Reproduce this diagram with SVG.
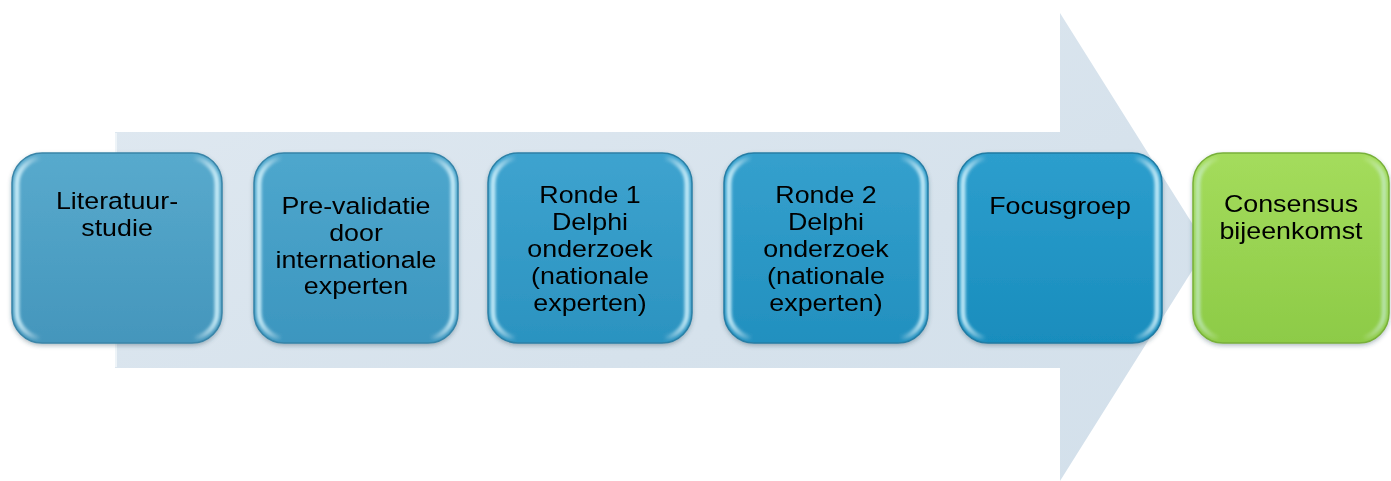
<svg xmlns="http://www.w3.org/2000/svg" width="1391" height="481" viewBox="0 0 1391 481">
  <defs>
    <style>
      .lbl { font-family: "Liberation Sans", Arial, sans-serif; font-size: 24.5px; fill: #000; text-anchor: middle; }
      .edge { fill: none; stroke-width: 1.5; }
      .shine { fill: none; stroke: url(#sideShine); stroke-width: 5; filter: url(#soft); }
    </style>
    <linearGradient id="arrowFill" x1="0" y1="0" x2="1" y2="1">
      <stop offset="0" stop-color="#e0e9f1"/>
      <stop offset="0.6" stop-color="#d6e2ec"/>
      <stop offset="1" stop-color="#d3e0eb"/>
    </linearGradient>
    <linearGradient id="blue1" x1="0" y1="0" x2="0" y2="1">
      <stop offset="0" stop-color="#58aacd"/>
      <stop offset="1" stop-color="#4496bc"/>
    </linearGradient>
    <linearGradient id="blue2" x1="0" y1="0" x2="0" y2="1">
      <stop offset="0" stop-color="#4ea7cd"/>
      <stop offset="1" stop-color="#3c96bf"/>
    </linearGradient>
    <linearGradient id="blue3" x1="0" y1="0" x2="0" y2="1">
      <stop offset="0" stop-color="#3ea3cf"/>
      <stop offset="1" stop-color="#2b93c0"/>
    </linearGradient>
    <linearGradient id="blue4" x1="0" y1="0" x2="0" y2="1">
      <stop offset="0" stop-color="#35a0cd"/>
      <stop offset="1" stop-color="#2290bf"/>
    </linearGradient>
    <linearGradient id="blue5" x1="0" y1="0" x2="0" y2="1">
      <stop offset="0" stop-color="#2d9ecd"/>
      <stop offset="1" stop-color="#198dbd"/>
    </linearGradient>
    <linearGradient id="green" x1="0" y1="0" x2="0" y2="1">
      <stop offset="0" stop-color="#a4dc5c"/>
      <stop offset="1" stop-color="#8dcb47"/>
    </linearGradient>
    <linearGradient id="sideShine" x1="0" y1="0" x2="1" y2="0">
      <stop offset="0" stop-color="#d8f6ff" stop-opacity="0.85"/>
      <stop offset="0.12" stop-color="#ffffff" stop-opacity="0"/>
      <stop offset="0.88" stop-color="#ffffff" stop-opacity="0"/>
      <stop offset="1" stop-color="#d8f6ff" stop-opacity="0.85"/>
    </linearGradient>
    <filter id="soft" x="-10%" y="-10%" width="120%" height="120%">
      <feGaussianBlur stdDeviation="1.6"/>
    </filter>
    <filter id="shadow" x="-10%" y="-10%" width="120%" height="125%">
      <feDropShadow dx="0" dy="2" stdDeviation="2" flood-color="#2a4a5c" flood-opacity="0.35"/>
    </filter>
  </defs>

  <rect width="1391" height="481" fill="#ffffff"/>

  <!-- process arrow behind the steps -->
  <g id="connectors">
    <polygon points="115,132 1060,132 1060,13 1207,247 1060,481 1060,368 115,368" fill="url(#arrowFill)"/>
    <line x1="116" y1="133" x2="116" y2="367" stroke="#eef4f8" stroke-width="2"/>
  </g>

  <!-- step 1 -->
  <g id="step-literatuurstudie" filter="url(#shadow)">
    <rect x="12" y="153" width="210" height="190" rx="30" fill="url(#blue1)"/>
    <rect class="shine" x="17" y="158" width="200" height="180" rx="26"/>
    <rect class="edge" x="12" y="153" width="210" height="190" rx="30" stroke="#3a85a8"/>
    <text class="lbl" transform="translate(117 0) scale(1.095 1)"><tspan x="0" y="209">Literatuur-</tspan><tspan x="0" y="236">studie</tspan></text>
  </g>

  <!-- step 2 -->
  <g id="step-prevalidatie" filter="url(#shadow)">
    <rect x="254" y="153" width="204" height="190" rx="30" fill="url(#blue2)"/>
    <rect class="shine" x="259" y="158" width="194" height="180" rx="26"/>
    <rect class="edge" x="254" y="153" width="204" height="190" rx="30" stroke="#3584a8"/>
    <text class="lbl" transform="translate(356 0) scale(1.095 1)"><tspan x="0" y="214">Pre-validatie</tspan><tspan x="0" y="241">door</tspan><tspan x="0" y="268">internationale</tspan><tspan x="0" y="294">experten</tspan></text>
  </g>

  <!-- step 3 -->
  <g id="step-ronde1" filter="url(#shadow)">
    <rect x="488" y="153" width="204" height="190" rx="30" fill="url(#blue3)"/>
    <rect class="shine" x="493" y="158" width="194" height="180" rx="26"/>
    <rect class="edge" x="488" y="153" width="204" height="190" rx="30" stroke="#2c80a6"/>
    <text class="lbl" transform="translate(590 0) scale(1.095 1)"><tspan x="0" y="203">Ronde 1</tspan><tspan x="0" y="230">Delphi</tspan><tspan x="0" y="257">onderzoek</tspan><tspan x="0" y="284">(nationale</tspan><tspan x="0" y="311">experten)</tspan></text>
  </g>

  <!-- step 4 -->
  <g id="step-ronde2" filter="url(#shadow)">
    <rect x="724" y="153" width="204" height="190" rx="30" fill="url(#blue4)"/>
    <rect class="shine" x="729" y="158" width="194" height="180" rx="26"/>
    <rect class="edge" x="724" y="153" width="204" height="190" rx="30" stroke="#267ea5"/>
    <text class="lbl" transform="translate(826 0) scale(1.095 1)"><tspan x="0" y="203">Ronde 2</tspan><tspan x="0" y="230">Delphi</tspan><tspan x="0" y="257">onderzoek</tspan><tspan x="0" y="284">(nationale</tspan><tspan x="0" y="311">experten)</tspan></text>
  </g>

  <!-- step 5 -->
  <g id="step-focusgroep" filter="url(#shadow)">
    <rect x="958" y="153" width="204" height="190" rx="30" fill="url(#blue5)"/>
    <rect class="shine" x="963" y="158" width="194" height="180" rx="26"/>
    <rect class="edge" x="958" y="153" width="204" height="190" rx="30" stroke="#207ba3"/>
    <text class="lbl" transform="translate(1060 0) scale(1.095 1)"><tspan x="0" y="214">Focusgroep</tspan></text>
  </g>

  <!-- final step -->
  <g id="step-consensus" filter="url(#shadow)">
    <rect x="1193" y="153" width="196" height="190" rx="30" fill="url(#green)"/>
    <rect class="shine" x="1198" y="158" width="186" height="180" rx="26" style="stroke:url(#sideShine);opacity:0.6"/>
    <rect class="edge" x="1193" y="153" width="196" height="190" rx="30" stroke="#78b03a"/>
    <text class="lbl" transform="translate(1291 0) scale(1.095 1)"><tspan x="0" y="212">Consensus</tspan><tspan x="0" y="239">bijeenkomst</tspan></text>
  </g>
</svg>
